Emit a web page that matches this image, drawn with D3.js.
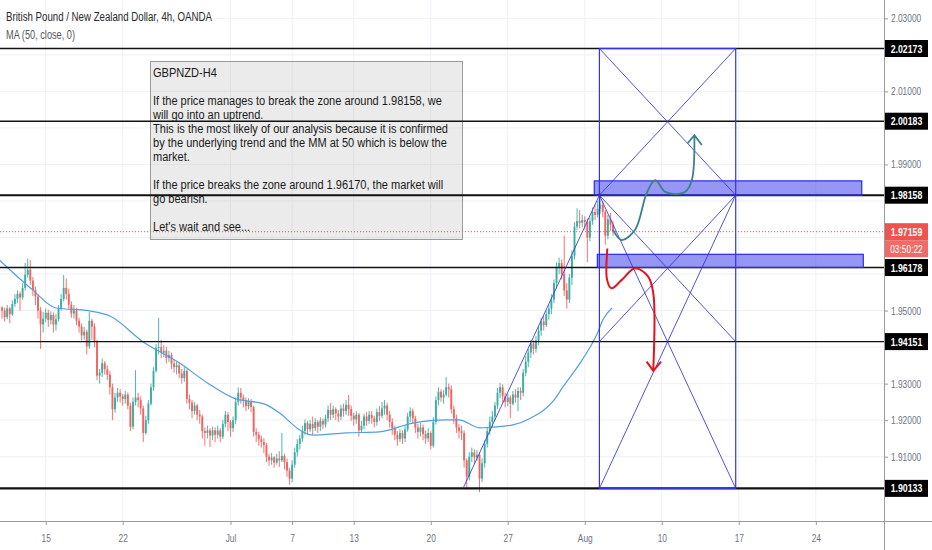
<!DOCTYPE html>
<html>
<head>
<meta charset="utf-8">
<script src="https://d3js.org/d3.v7.min.js"></script>
<style>
  html, body { margin: 0; padding: 0; background: #fff; }
  svg { display: block; }
</style>
</head>
<body>
<svg id="chart" width="932" height="550"></svg>
<script>
/* ── data (GBPNZD 4h) ─────────────────────── */

// bar index 0 = Mon 15 Jun 00:00, 6 bars per trading day
const firstBar  = -17;
const firstOpen = 1.9508;

const closes = [
  1.9500,1.9482,1.9506,1.9490,1.9518,1.9532,1.9546,1.9536,1.9562,1.9598, // -17
  1.9612,1.9582,1.9556,1.9538,1.9500,1.9462,1.9478,1.9494,1.9474,1.9488, // -7
  1.9462,1.9476,1.9505,1.9532,1.9562,1.9546,1.9516,1.9492,1.9500,1.9472, // 3
  1.9456,1.9432,1.9442,1.9402,1.9472,1.9456,1.9415,1.9322,1.9330,1.9356, // 13
  1.9340,1.9325,1.9290,1.9230,1.9262,1.9275,1.9265,1.9258,1.9270,1.9240, // 23
  1.9182,1.9250,1.9262,1.9255,1.9232,1.9165,1.9200,1.9245,1.9290,1.9335, // 33
  1.9398,1.9400,1.9385,1.9390,1.9370,1.9378,1.9355,1.9345,1.9350,1.9328, // 43
  1.9315,1.9335,1.9258,1.9248,1.9225,1.9240,1.9215,1.9210,1.9170,1.9165, // 53
  1.9172,1.9158,1.9172,1.9160,1.9172,1.9155,1.9190,1.9215,1.9195,1.9178, // 63
  1.9200,1.9250,1.9275,1.9262,1.9255,1.9238,1.9252,1.9236,1.9168,1.9160, // 73
  1.9148,1.9140,1.9132,1.9100,1.9090,1.9098,1.9084,1.9095,1.9090,1.9102, // 83
  1.9085,1.9062,1.9040,1.9078,1.9112,1.9135,1.9150,1.9170,1.9192,1.9175, // 93
  1.9190,1.9178,1.9195,1.9182,1.9198,1.9188,1.9205,1.9228,1.9215,1.9230, // 103
  1.9218,1.9210,1.9232,1.9225,1.9242,1.9230,1.9212,1.9202,1.9215,1.9172, // 113
  1.9185,1.9210,1.9198,1.9215,1.9205,1.9195,1.9222,1.9212,1.9232,1.9240, // 123
  1.9215,1.9195,1.9178,1.9160,1.9148,1.9165,1.9150,1.9175,1.9210,1.9225, // 133
  1.9205,1.9180,1.9168,1.9180,1.9162,1.9150,1.9165,1.9130,1.9195,1.9255, // 143
  1.9278,1.9262,1.9270,1.9290,1.9285,1.9230,1.9205,1.9180,1.9170,1.9165, // 153
  1.9090,1.9045,1.9100,1.9112,1.9098,1.9105,1.9040,1.9082,1.9135,1.9170, // 163
  1.9195,1.9210,1.9240,1.9275,1.9290,1.9265,1.9250,1.9262,1.9245,1.9270, // 173
  1.9262,1.9280,1.9275,1.9330,1.9360,1.9385,1.9410,1.9395,1.9418,1.9445, // 183
  1.9470,1.9460,1.9490,1.9505,1.9530,1.9575,1.9620,1.9630,1.9600,1.9555, // 193
  1.9530,1.9590,1.9650,1.9730,1.9745,1.9740,1.9748,1.9742,1.9700,1.9745, // 203
  1.9770,1.9762,1.9778,1.9790,1.9770,1.9705,1.9750,1.9735,1.9716         // 213
];

const highs = [
  1.9512,1.9508,1.9515,1.9510,1.9528,1.9545,1.9555,1.9552,1.9575,1.9630,
  1.9642,1.9638,1.9592,1.9566,1.9545,1.9510,1.9496,1.9506,1.9502,1.9498,
  1.9495,1.9490,1.9515,1.9545,1.9597,1.9588,1.9560,1.9525,1.9515,1.9508,
  1.9480,1.9465,1.9455,1.9448,1.9496,1.9478,1.9465,1.9420,1.9340,1.9368,
  1.9362,1.9350,1.9335,1.9300,1.9275,1.9288,1.9285,1.9272,1.9280,1.9276,
  1.9248,1.9262,1.9337,1.9275,1.9265,1.9240,1.9212,1.9255,1.9300,1.9345,
  1.9408,1.9480,1.9420,1.9405,1.9400,1.9390,1.9385,1.9365,1.9360,1.9357,
  1.9340,1.9345,1.9340,1.9270,1.9255,1.9250,1.9245,1.9228,1.9215,1.9180,
  1.9185,1.9178,1.9182,1.9180,1.9185,1.9178,1.9200,1.9225,1.9222,1.9200,
  1.9210,1.9262,1.9290,1.9288,1.9270,1.9262,1.9260,1.9258,1.9240,1.9178,
  1.9168,1.9158,1.9150,1.9138,1.9108,1.9110,1.9102,1.9108,1.9115,1.9165,
  1.9108,1.9095,1.9070,1.9090,1.9125,1.9148,1.9160,1.9185,1.9202,1.9198,
  1.9200,1.9210,1.9205,1.9200,1.9208,1.9205,1.9215,1.9240,1.9247,1.9240,
  1.9235,1.9228,1.9242,1.9245,1.9255,1.9269,1.9240,1.9220,1.9225,1.9220,
  1.9198,1.9218,1.9222,1.9225,1.9225,1.9212,1.9232,1.9238,1.9250,1.9255,
  1.9248,1.9225,1.9205,1.9185,1.9170,1.9175,1.9172,1.9185,1.9220,1.9235,
  1.9232,1.9212,1.9190,1.9192,1.9188,1.9172,1.9178,1.9170,1.9208,1.9265,
  1.9290,1.9285,1.9282,1.9318,1.9300,1.9295,1.9240,1.9215,1.9190,1.9185,
  1.9172,1.9095,1.9112,1.9125,1.9120,1.9118,1.9112,1.9095,1.9145,1.9180,
  1.9210,1.9225,1.9250,1.9288,1.9302,1.9298,1.9275,1.9272,1.9268,1.9280,
  1.9285,1.9290,1.9290,1.9340,1.9375,1.9395,1.9420,1.9418,1.9430,1.9455,
  1.9480,1.9485,1.9500,1.9515,1.9545,1.9585,1.9632,1.9645,1.9640,1.9705,
  1.9575,1.9600,1.9665,1.9742,1.9780,1.9775,1.9762,1.9758,1.9752,1.9755,
  1.9782,1.9790,1.9800,1.9821,1.9800,1.9775,1.9762,1.9768,1.9745
];

const lows = [
  1.9478,1.9470,1.9476,1.9465,1.9485,1.9510,1.9520,1.9500,1.9530,1.9555,
  1.9590,1.9570,1.9540,1.9515,1.9478,1.9395,1.9440,1.9468,1.9455,1.9462,
  1.9440,1.9445,1.9470,1.9500,1.9525,1.9530,1.9505,1.9480,1.9478,1.9460,
  1.9440,1.9418,1.9420,1.9380,1.9395,1.9420,1.9400,1.9310,1.9300,1.9318,
  1.9325,1.9310,1.9270,1.9200,1.9220,1.9250,1.9248,1.9240,1.9245,1.9230,
  1.9170,1.9175,1.9240,1.9235,1.9215,1.9140,1.9160,1.9190,1.9240,1.9280,
  1.9330,1.9380,1.9370,1.9372,1.9355,1.9360,1.9340,1.9330,1.9325,1.9315,
  1.9300,1.9305,1.9245,1.9230,1.9205,1.9215,1.9200,1.9190,1.9150,1.9130,
  1.9150,1.9127,1.9145,1.9140,1.9150,1.9140,1.9148,1.9180,1.9170,1.9155,
  1.9168,1.9190,1.9240,1.9245,1.9235,1.9225,1.9230,1.9222,1.9155,1.9140,
  1.9130,1.9125,1.9110,1.9085,1.9075,1.9078,1.9070,1.9078,1.9072,1.9085,
  1.9065,1.9045,1.9023,1.9030,1.9070,1.9100,1.9120,1.9140,1.9160,1.9160,
  1.9168,1.9160,1.9170,1.9165,1.9170,1.9175,1.9180,1.9195,1.9200,1.9205,
  1.9200,1.9195,1.9200,1.9210,1.9215,1.9212,1.9198,1.9185,1.9190,1.9155,
  1.9165,1.9175,1.9185,1.9190,1.9190,1.9180,1.9185,1.9198,1.9205,1.9215,
  1.9200,1.9180,1.9160,1.9145,1.9130,1.9140,1.9135,1.9140,1.9168,1.9195,
  1.9190,1.9165,1.9150,1.9155,1.9145,1.9135,1.9140,1.9120,1.9125,1.9188,
  1.9240,1.9250,1.9245,1.9265,1.9262,1.9218,1.9190,1.9165,1.9150,1.9145,
  1.9070,1.9010,1.9035,1.9085,1.9080,1.9088,1.9003,1.9030,1.9070,1.9125,
  1.9160,1.9180,1.9200,1.9230,1.9260,1.9248,1.9235,1.9238,1.9205,1.9240,
  1.9248,1.9225,1.9255,1.9265,1.9320,1.9345,1.9370,1.9380,1.9385,1.9405,
  1.9430,1.9445,1.9455,1.9475,1.9490,1.9520,1.9560,1.9600,1.9585,1.9540,
  1.9505,1.9520,1.9570,1.9640,1.9720,1.9725,1.9728,1.9722,1.9633,1.9690,
  1.9735,1.9748,1.9755,1.9765,1.9755,1.9680,1.9695,1.9718,1.9705
];

// MA(50, close) as drawn: [bar index, price]
const maLine = [
  [-18,1.9638],[-5,1.9556],[4,1.9507],[17,1.9499],[25,1.9485],[38,1.9414],
  [52,1.9357],[63,1.9302],[73,1.9261],[86,1.9242],[91,1.9220],[99,1.9173],
  [104,1.9159],[117,1.9165],[130,1.9168],[143,1.9192],[156,1.9201],[161,1.9201],
  [169,1.9179],[174,1.9181],[182,1.9187],[189,1.9206],[198,1.9255],[201.5,1.9291],
  [209,1.9365],[215,1.9439],[217,1.9474],[220.6,1.9507]
];

const levels      = [2.02173, 2.00183, 1.98158, 1.96178, 1.94151, 1.90133];
const levelWidths = [1.4, 1.4, 2, 1.4, 1.4, 2.4];
const lastPrice   = 1.97159;
const countdown   = '03:50:22';

// grid every 0.01; only the labels not hidden behind a price tag are shown
const priceGrid   = [1.91,1.92,1.93,1.94,1.95,1.96,1.97,1.98,1.99,2.00,2.01,2.02,2.03];
const priceLabels = [1.91,1.92,1.93,1.95,1.99,2.01,2.03];
const dateTickBars   = [0, 30, 72, 96, 120, 150, 180, 210, 240, 270, 300];
const dateTickLabels = ['15','22','Jul','7','13','20','27','Aug','10','17','24'];

// drawings
const boxBars    = [215.7, 268.8];
const boxLevels  = [2.02173, 1.98158, 1.94151, 1.90133];
const zoneBars   = [[213.7, 317.9], [214.9, 318.5]];
const zonePrices = [[1.98158, 1.98550], [1.96178, 1.96540]];
const trendLine  = [[162.7, 1.9015], [215.7, 1.98158]];
const bullPath   = [[221,1.9721],[224.4,1.9693],[229.6,1.9721],[234.1,1.9821],[237.4,1.9857],
                    [241.3,1.9825],[245.2,1.9819],[249.1,1.9825],[251.7,1.9857],[252.7,1.9978]];
const bullHead   = [[250.1,1.9958],[252.7,1.9980],[255.6,1.9953]];
const bearPath   = [[218.8,1.9670],[218.7,1.9584],[220.4,1.9561],[224.4,1.9584],[229.6,1.9616],
                    [234.7,1.9593],[236.7,1.9547],[236.7,1.9340]];
const bearHead   = [[234.1,1.9360],[236.7,1.9335],[239.7,1.9360]];

const titleText = 'British Pound / New Zealand Dollar, 4h, OANDA';
const maText    = 'MA (50, close, 0)';
const noteLines = [
  'GBPNZD-H4',
  '',
  'If the price manages to break the zone around 1.98158, we',
  'will go into an uptrend.',
  'This is the most likely of our analysis because it is confirmed',
  'by the underlying trend and the MM at 50 which is below the',
  'market.',
  '',
  'If the price breaks the zone around 1.96170, the market will',
  'go bearish.',
  '',
  "Let's wait and see..."
];

/* ── layout ──────────────────────────────────────────────────────── */

const W = 932, H = 550, plotW = 884, plotH = 521;
const FONT = '"Liberation Sans", Arial, sans-serif';
const UP = '#26a69a', DOWN = '#ef5350', DRAW = '#3535e0';

const x = d3.scaleLinear().domain([0, 300]).range([45.7, 815.8]);
const y = d3.scaleLinear().domain([1.91, 2.03]).range([456.7, 18.3]);

const svg = d3.select('#chart');
svg.append('rect').attr('width', W).attr('height', H).attr('fill', '#fff');

svg.append('defs').append('clipPath').attr('id', 'plot')
  .append('rect').attr('width', plotW).attr('height', plotH);

const gPlot = svg.append('g').attr('clip-path', 'url(#plot)');

// squeeze text horizontally (the snapshot is narrow)
function condense(sel, k) {
  sel.each(function () {
    const w = this.getComputedTextLength();
    if (w > 0) d3.select(this).attr('textLength', w * k).attr('lengthAdjust', 'spacingAndGlyphs');
  });
}

/* ── grid ────────────────────────────────────────────────────────── */

gPlot.append('g').selectAll('line').data(dateTickBars).join('line')
  .attr('x1', d => x(d)).attr('x2', d => x(d))
  .attr('y1', 0).attr('y2', plotH)
  .attr('stroke', '#eef0f5');

gPlot.append('g').selectAll('line').data(priceGrid).join('line')
  .attr('x1', 0).attr('x2', plotW)
  .attr('y1', d => y(d)).attr('y2', d => y(d))
  .attr('stroke', '#eef0f5');

/* ── candles ─────────────────────────────────────────────────────── */

const bars = closes.map((c, k) => ({
  i: firstBar + k,
  o: k ? closes[k - 1] : firstOpen,
  c, h: highs[k], l: lows[k]
}));

const gBars = gPlot.append('g').attr('opacity', 0.9);
gBars.selectAll('line').data(bars).join('line')
  .attr('x1', d => x(d.i)).attr('x2', d => x(d.i))
  .attr('y1', d => y(Math.max(d.h, d.o, d.c)))
  .attr('y2', d => y(Math.min(d.l, d.o, d.c)))
  .attr('stroke', d => d.c >= d.o ? UP : DOWN)
  .attr('stroke-width', 0.9);

gBars.selectAll('rect').data(bars).join('rect')
  .attr('x', d => x(d.i) - 0.95)
  .attr('width', 1.9)
  .attr('y', d => y(Math.max(d.o, d.c)))
  .attr('height', d => Math.max(0.8, Math.abs(y(d.o) - y(d.c))))
  .attr('fill', d => d.c >= d.o ? UP : DOWN);

/* ── moving average ──────────────────────────────────────────────── */

gPlot.append('path')
  .datum(maLine)
  .attr('d', d3.line().x(d => x(d[0])).y(d => y(d[1])).curve(d3.curveMonotoneX))
  .attr('fill', 'none')
  .attr('stroke', '#4f9fe3')
  .attr('stroke-width', 1.2);

/* ── note box ────────────────────────────────────────────────────── */

gPlot.append('rect')
  .attr('x', 150.5).attr('y', 61.5).attr('width', 312).attr('height', 178)
  .attr('fill', 'rgba(190,190,190,0.3)')
  .attr('stroke', '#9a9a9a');

/* ── horizontal levels & last price line ─────────────────────────── */

gPlot.append('g').selectAll('line').data(levels).join('line')
  .attr('x1', 0).attr('x2', plotW)
  .attr('y1', d => y(d)).attr('y2', d => y(d))
  .attr('stroke', '#111')
  .attr('stroke-width', (d, k) => levelWidths[k]);

gPlot.append('line')
  .attr('x1', 0).attr('x2', plotW)
  .attr('y1', y(lastPrice)).attr('y2', y(lastPrice))
  .attr('stroke', DOWN).attr('stroke-width', 1)
  .attr('stroke-dasharray', '1,2');

const gNote = gPlot.append('g')
  .attr('font-family', FONT).attr('font-size', 12).attr('fill', '#1a1a1a');
const noteText = gNote.selectAll('text').data(noteLines).join('text')
  .attr('x', 153).attr('y', (d, k) => 77 + k * 14)
  .text(d => d);
let noteMax = 0;
noteText.each(function () { noteMax = Math.max(noteMax, this.getComputedTextLength()); });
condense(noteText, 295 / noteMax);

/* ── drawings ────────────────────────────────────────────────────── */

const gDraw = gPlot.append('g');
const [bl, br] = boxBars;
const [bTop, bMid1, bMid2, bBot] = boxLevels;

gDraw.append('rect')
  .attr('x', x(bl)).attr('y', y(bTop))
  .attr('width', x(br) - x(bl)).attr('height', y(bBot) - y(bTop))
  .attr('fill', 'none').attr('stroke', DRAW).attr('stroke-width', 1.2);

const crossLines = [
  [[bl, bTop], [br, bMid1]], [[br, bTop], [bl, bMid1]],
  [[bl, bMid1], [br, bMid2]], [[br, bMid1], [bl, bMid2]],
  [[bl, bMid1], [br, bBot]], [[br, bMid1], [bl, bBot]],
  trendLine
];
gDraw.selectAll('line.cross').data(crossLines).join('line')
  .attr('class', 'cross')
  .attr('x1', d => x(d[0][0])).attr('y1', d => y(d[0][1]))
  .attr('x2', d => x(d[1][0])).attr('y2', d => y(d[1][1]))
  .attr('stroke', DRAW).attr('stroke-width', 1).attr('opacity', 0.85);

gDraw.selectAll('rect.zone').data(zoneBars).join('rect')
  .attr('class', 'zone')
  .attr('x', d => x(d[0]))
  .attr('width', d => x(d[1]) - x(d[0]))
  .attr('y', (d, k) => y(zonePrices[k][1]))
  .attr('height', (d, k) => y(zonePrices[k][0]) - y(zonePrices[k][1]))
  .attr('fill', 'rgba(45,45,235,0.5)')
  .attr('stroke', '#2b2be6').attr('stroke-width', 1.2);

const smooth = d3.line().x(d => x(d[0])).y(d => y(d[1])).curve(d3.curveCatmullRom.alpha(0.5));
const poly   = d3.line().x(d => x(d[0])).y(d => y(d[1]));

gDraw.append('path').attr('d', smooth(bullPath))
  .attr('fill', 'none').attr('stroke', '#3a8189').attr('stroke-width', 1.8);
gDraw.append('path').attr('d', poly(bullHead))
  .attr('fill', 'none').attr('stroke', '#3a8189').attr('stroke-width', 1.8);

gDraw.append('path').attr('d', smooth(bearPath))
  .attr('fill', 'none').attr('stroke', '#e3121b').attr('stroke-width', 2);
gDraw.append('path').attr('d', poly(bearHead))
  .attr('fill', 'none').attr('stroke', '#e3121b').attr('stroke-width', 2);

/* ── header ──────────────────────────────────────────────────────── */

const title = svg.append('text')
  .attr('x', 6).attr('y', 21)
  .attr('font-family', FONT).attr('font-size', 12.5).attr('fill', '#2a2a2a')
  .text(titleText);
condense(title, 206 / title.node().getComputedTextLength());

const maLbl = svg.append('text')
  .attr('x', 6).attr('y', 39)
  .attr('font-family', FONT).attr('font-size', 12.5).attr('fill', '#555')
  .text(maText);
condense(maLbl, 69 / maLbl.node().getComputedTextLength());

/* ── axes ────────────────────────────────────────────────────────── */

svg.append('rect').attr('x', plotW).attr('y', 0)
  .attr('width', W - plotW).attr('height', H).attr('fill', '#fff');
svg.append('rect').attr('x', 0).attr('y', plotH)
  .attr('width', W).attr('height', H - plotH).attr('fill', '#fff');

const gY = svg.append('g').attr('transform', `translate(${plotW},0)`)
  .call(d3.axisRight(y).tickValues(priceLabels).tickSize(4).tickPadding(3)
    .tickFormat(d3.format('.5f')));
gY.select('.domain').remove();
gY.selectAll('line').attr('stroke', '#999');
gY.selectAll('text').attr('font-family', FONT).attr('font-size', 11).attr('fill', '#6f7280');
condense(gY.selectAll('text'), 0.76);

const gX = svg.append('g').attr('transform', `translate(0,${plotH})`)
  .call(d3.axisBottom(x).tickValues(dateTickBars).tickSize(4).tickPadding(9)
    .tickFormat((d, k) => dateTickLabels[k]));
gX.select('.domain').remove();
gX.selectAll('line').attr('stroke', '#999');
gX.selectAll('text').attr('font-family', FONT).attr('font-size', 11).attr('fill', '#6f7280');
condense(gX.selectAll('text'), 0.76);

svg.append('line').attr('x1', 0).attr('x2', W)
  .attr('y1', plotH + 0.5).attr('y2', plotH + 0.5).attr('stroke', '#9a9a9a');
svg.append('line').attr('x1', plotW + 0.5).attr('x2', plotW + 0.5)
  .attr('y1', 0).attr('y2', H).attr('stroke', '#9a9a9a');

/* ── price labels on the scale ───────────────────────────────────── */

function priceTag(cy, label, fill, size, weight) {
  svg.append('rect')
    .attr('x', plotW + 1).attr('y', cy - 8.5)
    .attr('width', 43).attr('height', 17).attr('fill', fill);
  const t = svg.append('text')
    .attr('x', plotW + 22.5).attr('y', cy + 4)
    .attr('text-anchor', 'middle')
    .attr('font-family', FONT).attr('font-size', size).attr('font-weight', weight)
    .attr('fill', '#fff')
    .text(label);
  condense(t, 0.76);
}

levels.forEach(p => priceTag(y(p), d3.format('.5f')(p), '#000', 11.5, 'bold'));
priceTag(y(lastPrice), d3.format('.5f')(lastPrice), DOWN, 11.5, 'bold');
priceTag(y(lastPrice) + 17, countdown, '#f06b66', 11, 'normal');
</script>
</body>
</html>
